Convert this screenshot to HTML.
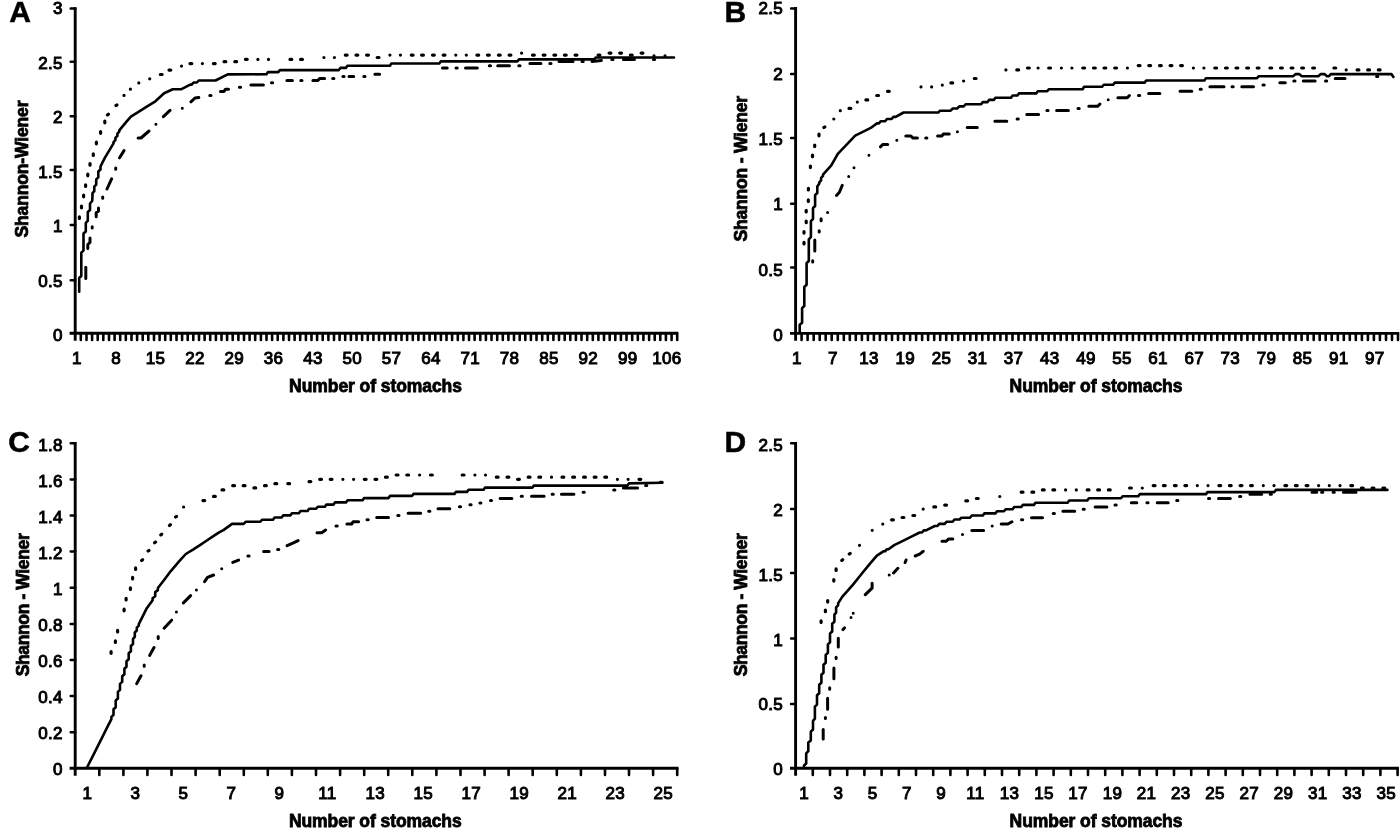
<!DOCTYPE html>
<html lang="en">
<head>
<meta charset="utf-8">
<title>Shannon-Wiener cumulative diversity curves</title>
<style>
html,body{margin:0;padding:0;background:#fff;}
body{width:1400px;height:830px;overflow:hidden;}
svg{display:block;}
</style>
</head>
<body>
<svg width="1400" height="830" viewBox="0 0 1400 830">
<defs><filter id="soft" x="0" y="0" width="1400" height="830" filterUnits="userSpaceOnUse"><feGaussianBlur stdDeviation="0.45"/></filter></defs>
<rect width="1400" height="830" fill="#fff"/>
<g filter="url(#soft)">
<g fill="none" stroke="#000" stroke-linecap="round" stroke-linejoin="round">
<path d="M75.2 7.3V340.7" stroke-width="2.9" stroke-linecap="butt"/><path d="M69.6 333.3H678.2" stroke-width="2.9" stroke-linecap="butt"/><path d="M70.7 8.6H75.2M70.7 61.7H75.2M70.7 116.2H75.2M70.7 170.1H75.2M70.7 225H75.2M70.7 280.3H75.2" stroke-width="2.5" stroke-linecap="round"/><path d="M80.8 333.3V339.9M86.5 333.3V339.9M92.1 333.3V339.9M97.7 333.3V339.9M103.3 333.3V339.9M109 333.3V339.9M114.6 333.3V339.9M120.2 333.3V339.9M125.8 333.3V339.9M131.5 333.3V339.9M137.1 333.3V339.9M142.7 333.3V339.9M148.3 333.3V339.9M154 333.3V339.9M159.6 333.3V339.9M165.2 333.3V339.9M170.8 333.3V339.9M176.5 333.3V339.9M182.1 333.3V339.9M187.7 333.3V339.9M193.3 333.3V339.9M199 333.3V339.9M204.6 333.3V339.9M210.2 333.3V339.9M215.9 333.3V339.9M221.5 333.3V339.9M227.1 333.3V339.9M232.7 333.3V339.9M238.4 333.3V339.9M244 333.3V339.9M249.6 333.3V339.9M255.2 333.3V339.9M260.9 333.3V339.9M266.5 333.3V339.9M272.1 333.3V339.9M277.7 333.3V339.9M283.4 333.3V339.9M289 333.3V339.9M294.6 333.3V339.9M300.2 333.3V339.9M305.9 333.3V339.9M311.5 333.3V339.9M317.1 333.3V339.9M322.7 333.3V339.9M328.4 333.3V339.9M334 333.3V339.9M339.6 333.3V339.9M345.2 333.3V339.9M350.9 333.3V339.9M356.5 333.3V339.9M362.1 333.3V339.9M367.8 333.3V339.9M373.4 333.3V339.9M379 333.3V339.9M384.6 333.3V339.9M390.3 333.3V339.9M395.9 333.3V339.9M401.5 333.3V339.9M407.1 333.3V339.9M412.8 333.3V339.9M418.4 333.3V339.9M424 333.3V339.9M429.6 333.3V339.9M435.3 333.3V339.9M440.9 333.3V339.9M446.5 333.3V339.9M452.1 333.3V339.9M457.8 333.3V339.9M463.4 333.3V339.9M469 333.3V339.9M474.6 333.3V339.9M480.3 333.3V339.9M485.9 333.3V339.9M491.5 333.3V339.9M497.2 333.3V339.9M502.8 333.3V339.9M508.4 333.3V339.9M514 333.3V339.9M519.7 333.3V339.9M525.3 333.3V339.9M530.9 333.3V339.9M536.5 333.3V339.9M542.2 333.3V339.9M547.8 333.3V339.9M553.4 333.3V339.9M559 333.3V339.9M564.7 333.3V339.9M570.3 333.3V339.9M575.9 333.3V339.9M581.5 333.3V339.9M587.2 333.3V339.9M592.8 333.3V339.9M598.4 333.3V339.9M604 333.3V339.9M609.7 333.3V339.9M615.3 333.3V339.9M620.9 333.3V339.9M626.5 333.3V339.9M632.2 333.3V339.9M637.8 333.3V339.9M643.4 333.3V339.9M649.1 333.3V339.9M654.7 333.3V339.9M660.3 333.3V339.9M665.9 333.3V339.9M671.6 333.3V339.9M677.2 333.3V339.9" stroke-width="2.6" stroke-linecap="round"/>
<path d="M795.6 7.1V340.8" stroke-width="2.9" stroke-linecap="butt"/><path d="M790 333.4H1399.2" stroke-width="2.9" stroke-linecap="butt"/><path d="M791.1 8.4H795.6M791.1 74.1H795.6M791.1 138.1H795.6M791.1 203.8H795.6M791.1 267.6H795.6" stroke-width="2.5" stroke-linecap="round"/><path d="M801.6 333.4V340M807.6 333.4V340M813.7 333.4V340M819.7 333.4V340M825.7 333.4V340M831.7 333.4V340M837.8 333.4V340M843.8 333.4V340M849.8 333.4V340M855.8 333.4V340M861.9 333.4V340M867.9 333.4V340M873.9 333.4V340M879.9 333.4V340M886 333.4V340M892 333.4V340M898 333.4V340M904 333.4V340M910.1 333.4V340M916.1 333.4V340M922.1 333.4V340M928.1 333.4V340M934.2 333.4V340M940.2 333.4V340M946.2 333.4V340M952.2 333.4V340M958.2 333.4V340M964.3 333.4V340M970.3 333.4V340M976.3 333.4V340M982.3 333.4V340M988.4 333.4V340M994.4 333.4V340M1000.4 333.4V340M1006.4 333.4V340M1012.5 333.4V340M1018.5 333.4V340M1024.5 333.4V340M1030.5 333.4V340M1036.6 333.4V340M1042.6 333.4V340M1048.6 333.4V340M1054.6 333.4V340M1060.7 333.4V340M1066.7 333.4V340M1072.7 333.4V340M1078.7 333.4V340M1084.8 333.4V340M1090.8 333.4V340M1096.8 333.4V340M1102.8 333.4V340M1108.8 333.4V340M1114.9 333.4V340M1120.9 333.4V340M1126.9 333.4V340M1132.9 333.4V340M1139 333.4V340M1145 333.4V340M1151 333.4V340M1157 333.4V340M1163.1 333.4V340M1169.1 333.4V340M1175.1 333.4V340M1181.1 333.4V340M1187.2 333.4V340M1193.2 333.4V340M1199.2 333.4V340M1205.2 333.4V340M1211.3 333.4V340M1217.3 333.4V340M1223.3 333.4V340M1229.3 333.4V340M1235.4 333.4V340M1241.4 333.4V340M1247.4 333.4V340M1253.4 333.4V340M1259.4 333.4V340M1265.5 333.4V340M1271.5 333.4V340M1277.5 333.4V340M1283.5 333.4V340M1289.6 333.4V340M1295.6 333.4V340M1301.6 333.4V340M1307.6 333.4V340M1313.7 333.4V340M1319.7 333.4V340M1325.7 333.4V340M1331.7 333.4V340M1337.8 333.4V340M1343.8 333.4V340M1349.8 333.4V340M1355.8 333.4V340M1361.9 333.4V340M1367.9 333.4V340M1373.9 333.4V340M1379.9 333.4V340M1386 333.4V340M1392 333.4V340M1398 333.4V340" stroke-width="2.6" stroke-linecap="round"/>
<path d="M75.2 442V775.7" stroke-width="2.9" stroke-linecap="butt"/><path d="M69.6 768.3H678.4" stroke-width="2.9" stroke-linecap="butt"/><path d="M70.7 443.3H75.2M70.7 479.4H75.2M70.7 515.5H75.2M70.7 551.6H75.2M70.7 587.7H75.2M70.7 623.9H75.2M70.7 660H75.2M70.7 696.1H75.2M70.7 732.2H75.2" stroke-width="2.5" stroke-linecap="round"/><path d="M99.3 768.3V774.9M123.4 768.3V774.9M147.4 768.3V774.9M171.5 768.3V774.9M195.6 768.3V774.9M219.7 768.3V774.9M243.8 768.3V774.9M267.8 768.3V774.9M291.9 768.3V774.9M316 768.3V774.9M340.1 768.3V774.9M364.2 768.3V774.9M388.2 768.3V774.9M412.3 768.3V774.9M436.4 768.3V774.9M460.5 768.3V774.9M484.6 768.3V774.9M508.6 768.3V774.9M532.7 768.3V774.9M556.8 768.3V774.9M580.9 768.3V774.9M605 768.3V774.9M629 768.3V774.9M653.1 768.3V774.9M677.2 768.3V774.9" stroke-width="2.6" stroke-linecap="round"/>
<path d="M795.6 442V775.7" stroke-width="2.9" stroke-linecap="butt"/><path d="M790 768.3H1398.8" stroke-width="2.9" stroke-linecap="butt"/><path d="M791.1 443.3H795.6M791.1 509.1H795.6M791.1 573.1H795.6M791.1 638.5H795.6M791.1 704H795.6" stroke-width="2.5" stroke-linecap="round"/><path d="M812.8 768.3V774.9M830 768.3V774.9M847.2 768.3V774.9M864.4 768.3V774.9M881.6 768.3V774.9M898.8 768.3V774.9M916 768.3V774.9M933.2 768.3V774.9M950.4 768.3V774.9M967.6 768.3V774.9M984.8 768.3V774.9M1002 768.3V774.9M1019.2 768.3V774.9M1036.4 768.3V774.9M1053.6 768.3V774.9M1070.8 768.3V774.9M1088 768.3V774.9M1105.2 768.3V774.9M1122.4 768.3V774.9M1139.6 768.3V774.9M1156.8 768.3V774.9M1174 768.3V774.9M1191.2 768.3V774.9M1208.4 768.3V774.9M1225.6 768.3V774.9M1242.8 768.3V774.9M1260 768.3V774.9M1277.2 768.3V774.9M1294.4 768.3V774.9M1311.6 768.3V774.9M1328.8 768.3V774.9M1346 768.3V774.9M1363.2 768.3V774.9M1380.4 768.3V774.9M1397.6 768.3V774.9" stroke-width="2.6" stroke-linecap="round"/>
<path d="M79.2 291.7 L79.2 278 L81.3 276 L81.3 252.6 L83.5 250.6 L83.5 233.4 L85.8 231.4 L85.8 222.8 L87.8 220.8 L87.8 212 L90 210 L90 203.5 L92.2 201 L92.5 195.4 L92.5 193.2 L94.3 191.2 L94.3 188.9 L94.3 186.7 L96.2 184.7 L96.2 182.4 L96.2 179.4 L98.3 177.4 L98.3 174.4 L98.3 171.5 L100.5 169.5 L100.5 166.5 L104.8 157.8 L113.5 143.4 L113.5 142.2 L115.4 140.2 L115.4 139.1 L115.4 137.9 L117.4 135.9 L117.4 134.7 L117.4 133.6 L119.3 131.6 L119.3 130.4 L126.5 121.7 L130.9 116.6 L138.1 112.2 L146 107.1 L155.4 101.3 L164.1 93.3 L172.8 89.2 L181.5 89.2 L190.2 84.6 L191.8 84.6 L193.6 82.5 L195.2 82.5 L196.9 82.5 L198.7 80.5 L200.3 80.5 L215.5 80.5 L227.7 74.4 L266.5 74.3 L268 72.1 L278.3 72.1 L279.9 70.1 L338.8 70.1 L340.4 67.9 L345.9 67.9 L347.4 65.8 L389.9 65.8 L391.4 63.5 L439.3 63.5 L440.9 61.4 L517.4 61.4 L519 59.4 L590 59.4 L594.1 59.4 L595.9 57.5 L600 57.5 L674 57.5" stroke-width="2.6"/>
<path d="M79.4 216.9v1.6M81.5 206.2v1.6M83.6 195.2v1.6M85.6 184.8v1.6M87.8 174.2v1.6M90 163.6v1.6M93.3 153.9v1.6M96.4 142.2v1.6M100.6 131.7v1.6M104.8 121.2v1.6M107.5 114.9l0.9 -0.7M116 105.6l0.9 -0.7M124 95.4h0.01M130.4 89.2h0.01M138.8 82.9h0.01M149.7 78.8h0.01M160.3 74.5h1.8M169 70.1h1.8M181.5 66.1h0.01M190 63.6h1.8M202.4 63.6h0.01M213.4 63.6h1.8M224 61.7h1.8M234.8 61.7h1.8M245.4 59.3h1.8M257.9 59.4h0.01M268.5 59.4h0.01M290 59.4h1.8M300.6 59.4h1.8M323.9 57.5h0.01M334.4 57.5h0.01M345.3 55.1h1.8M356 55.1h1.8M366.6 55.1h1.8M377.2 57.5h1.8M389.9 55.1h0.01M400.4 55.1h0.01M411.3 55.1h1.8M421.6 55.1h1.8M432.5 55.1h1.8M443.2 55.1h1.8M455.8 55.1h0.01M466.3 55.1h0.01M476.9 55.1h1.8M487.5 55.1h1.8M498.4 55.1h1.8M509.1 55.1h1.8M521.6 53.1h0.01M532.5 55.1h1.8M543.2 55.1h1.8M553.9 55.1h1.8M564.4 55.1h1.8M575.1 55.1h1.8M598.1 55.1h1.8M609.1 53.1h1.8M619.7 53.1h1.8M630.4 55.1h1.8M641.1 53.1h1.8M654 55.8h0.01M665 55.8h0.01" stroke-width="3.2"/>
<path d="M85.8 267.3L85.8 278.4M87.8 248.6L87.8 244.5L90 242.5L90 238M92.2 226.7v1.2M96.2 216.7L96.2 212.7L98.5 211L98.5 208M102.7 197v1.2M107 189L111.6 178.8M115.7 168.1v1.2M119.6 157.8L124 150.6M138.1 138L141 138L149 131M155.9 124.3h0.01M163.4 116.6L170 110.4M182.3 108.2h0.01M190.9 101.8L195 98L198.8 97.6M209.8 95.4h1.2M220.5 91.4L224 91.4L225.5 89.2L228.5 89.2M239.4 87.2h1.2M250.9 85L263.4 85M271.4 82.8h1.2M286.9 80.6L292.4 80.6M300.8 80.6h1.2M312.9 80.6L317.6 80.6L319.9 78.4L324.6 78.4M332.7 78.4h1.2M342.9 76.4h1.2M349 76.4L353.7 76.4M363.8 76.4h1.2M374.9 74.3L379.6 74.3M442.5 67.9L447.2 67.9M456 67.9h1.2M465.5 67.9L477.3 67.9M489.3 65.8h1.2M497.7 65.8L509.5 65.8M518.8 65.8h1.2M529.9 63.6L540.9 63.6M549.8 63.6h1.2M559 61.6L573 61.6M582 61.4h1.2M592 61.4L601.4 60.5M611.8 59.6h1.2M623.4 59.6L634.4 59.6M653.4 59.4h1.2" stroke-width="3"/>
<path d="M799.7 332 L799.7 324.8 L802.1 322.7 L802.1 308.2 L804.3 306 L804.3 287 L806.6 284.8 L806.6 263.2 L808.8 261 L808.8 239.3 L810.9 237.1 L810.9 221.2 L813 219 L813 208.2 L815.1 206 L815.1 195.2 L817.3 193 L817.3 186.5 L819.3 183.6 L819.3 182.4 L821.1 180.4 L821.1 179.1 L821.1 177.9 L823 175.9 L823 174.7 L831.3 165.3 L837.8 153.8 L855.2 135.7 L866.8 129.9 L871.1 127.7 L876.9 123.4 L878.9 123.4 L880.7 121.2 L882.7 121.2 L885.1 121.2 L886.9 119 L889.2 119 L891.6 119 L893.4 116.9 L895.7 116.9 L903.6 112.5 L938.4 112.5 L939.8 110.7 L950.6 110.7 L952.8 108.5 L957.2 108.5 L959.3 106.4 L963.7 106.4 L965.8 104.2 L981.2 104.1 L982.8 102.1 L987.5 102.1 L989 99.9 L993.8 99.9 L995.4 97.7 L1011 97.7 L1012.6 95.5 L1017.4 95.5 L1018.9 93.4 L1036.2 93.4 L1037.8 91.2 L1047.2 91.2 L1048.8 89.2 L1082.6 89.2 L1084.1 86.8 L1102.2 86.8 L1103.8 84.8 L1113.2 84.8 L1114.8 82.6 L1144.6 82.6 L1146.2 80.5 L1204.4 80.5 L1205.9 78.3 L1257 78.3 L1258.6 76.3 L1293.1 76.3 L1295.5 74.1 L1299.4 74.1 L1301.8 76.3 L1318.3 76.3 L1320.6 74.1 L1324.6 74.1 L1327 76.3 L1329 76.3 L1330.8 74.1 L1391.4 74.1 L1393.4 76.9" stroke-width="2.6"/>
<path d="M804 242.4v1.6M804 231.5v1.6M806.2 221.1v1.6M806.2 210.3v1.6M808.3 199.9v1.6M808.4 188.4v1.6M810.4 166v1.6M812.5 155.1v1.6M814.7 145v1.6M819 134.2v1.6M823.9 127.6l0.9 -0.7M833.8 119h0.01M840.3 110.7h0.01M849 108.4h1.8M857.3 102.1h0.01M865.9 99.9h1.8M876.7 95.5h1.8M887.5 91.3h1.8M921 86.9h0.01M931.6 86.9h0.01M942.3 85.1h0.01M950.9 82.9h1.8M963.6 81h0.01M974.3 78.5h1.8M1005.9 69.9h0.01M1016.8 69.9h1.8M1027.5 68h1.8M1038.1 68h0.01M1048.7 68h1.8M1061.4 68h0.01M1071.9 68h0.01M1082.8 68h1.8M1093.5 68h1.8M1104 68h1.8M1114.7 68h1.8M1127.4 68h0.01M1138.2 65.6h1.8M1148.8 65.6h1.8M1159.5 65.6h1.8M1170.1 65.6h1.8M1180.6 65.6h1.8M1193.4 68h0.01M1203.9 68h0.01M1214.8 68h1.8M1225.5 68h1.8M1236 68h1.8M1246.7 68h1.8M1257.2 68h1.8M1269.9 68h1.8M1280.5 68h1.8M1291.1 68h1.8M1301.7 68h1.8M1312.7 68h1.8M1333.9 68h1.8M1346.2 69.9h0.01M1357.1 69.9h1.8M1367.7 69.9h1.8M1378.3 69.9h1.8" stroke-width="3.2"/>
<path d="M812.7 260.8v1.2M814.8 240L814.8 250.9M819.2 230.7v1.2M821.1 218.8L821.1 220.8M827.6 212.5h0.01M836.5 195.4L839.4 192.3L842.3 185.3M848.7 176.5h0.01M854 167.8h0.01M868.9 155.2h0.01M880.5 146.8L882.7 144.4L887.7 144.4M896.8 140.3h0.01M905.8 136L910.9 136L913 138.1L917.4 138.1M925.7 138.1h1.2M937.6 136L942 136L943.4 133.9L949.2 133.9M957.4 131.8h0.01M967.2 127.5L977.3 127.5M994.9 121.2L1006.8 121.2M1017.1 119h1.2M1026.8 114.6L1038.6 114.6M1046.9 110.4h1.2M1056.6 110.4L1068.4 110.4M1078 108.4h1.2M1088.8 106.3L1097.5 106.3L1099.9 104.1M1108.2 99.7h0.01M1117.9 97.7L1127.3 97.7L1129.4 95.5M1138.5 95.5h1.2M1148.6 93.4L1159.9 93.4M1180 91.2L1191.8 91.2M1200.1 89.2h1.2M1209.9 86.8L1224 86.8M1232 86.8h1.2M1241.8 86.8L1253.5 86.8M1263 85.1h1.2M1279.8 82.7L1285.3 82.7M1293.8 80.9h1.2M1303.3 80.9L1315.1 80.9M1325.5 80.9h1.2M1335.2 78.5L1345 78.5M1376.6 76.5h1.2" stroke-width="3"/>
<path d="M86.8 768 L101.2 739.3 L104.8 732.1 L109.2 723.4 L111.4 719.1 L111.4 716.9 L113.5 714.9 L113.5 712.6 L113.5 709.2 L115.7 707.2 L115.7 703.9 L115.7 700.5 L117.9 698.5 L117.9 695.2 L117.9 691.9 L120 689.9 L120 686.5 L120 683.9 L122.2 681.9 L122.2 679.3 L122.2 676.3 L124.4 674.3 L124.4 671.3 L124.4 668.7 L126.5 666.7 L126.5 664.1 L126.5 661.2 L128.7 659.2 L128.7 656.2 L128.7 653.2 L130.9 651.2 L130.9 648.2 L130.9 646 L133 644 L133 641.7 L133 638.9 L134.8 636.9 L134.8 634 L134.8 632.5 L136.8 630.5 L136.8 629 L136.8 627.6 L138.8 625.6 L138.8 624.1 L146.8 608.2 L152.6 600.3 L152.6 598.2 L155.2 596.2 L155.2 594.1 L155.2 592.1 L157.9 590.1 L157.9 588 L164.1 580 L170.6 571.3 L179.3 561.2 L185.8 554 L193 549.6 L199.6 545.3 L206.1 541 L212.6 536.6 L219.1 532.3 L223.4 530.1 L232.1 523.9 L243.7 523.9 L245.8 521.7 L260.4 521.7 L262 519.7 L273 519.7 L274.6 517.5 L281.6 517.5 L283.2 515.4 L290.3 515.4 L291.9 513.2 L298.9 513.2 L300.5 511 L307.6 511 L309.1 508.8 L316.2 508.8 L317.8 506.8 L324.9 506.8 L326.4 504.6 L333.5 504.6 L335 502.4 L346 502.4 L347.6 500.2 L362.6 500.2 L364 498.1 L388.5 498.1 L390 495.9 L412 495.9 L413.6 493.9 L454.5 493.9 L456 491.9 L467 491.9 L468.6 489.8 L483.6 489.8 L485.1 487.6 L532.3 487.6 L533.9 485.6 L627.3 485.6 L628.9 483.4 L661.5 482.8" stroke-width="2.6"/>
<path d="M111.1 651.7v1.6M115.4 640.9v1.6M117.6 630.4v1.6M124.1 609.2v1.6M126.1 598.4v1.6M130.4 587.9v1.6M132.6 577.3v1.6M135.6 567.9v1.6M141.7 560.5l0.9 -0.7M148.1 551.1l0.9 -0.7M154.6 542.8l0.9 -0.7M160.8 534.9l0.9 -0.7M169.5 525.5l0.9 -0.7M175.6 517.1l0.9 -0.7M183.6 507h0.01M202.9 500.6h1.8M213.5 496.4h1.8M222 489.9h1.8M232.7 485.7h1.8M243.2 485.7h1.8M253.9 487.9h1.8M264.5 485.7h1.8M274.9 483.7h1.8M287.8 483.7h1.8M309 481.6h1.8M319.7 479.3h1.8M330.2 479.3h1.8M342.9 479.3h0.01M353.6 479.3h0.01M364.3 479.3h1.8M375 479.3h1.8M385.5 477.2h1.8M396.2 475h1.8M406.8 475h1.8M419.6 475h0.01M430.5 475h1.8M462.2 475h1.8M474.9 475h0.01M485.5 475h0.01M496.3 477.2h1.8M507 477.2h1.8M517.6 479.3h1.8M528.2 477.2h1.8M538.8 477.2h1.8M551.5 477.2h0.01M562 477.2h1.8M572.7 477.2h1.8M583.6 477.2h1.8M594.2 477.2h1.8M604.8 477.2h1.8M617.4 479.3h0.01M628.1 479.3h0.01M639 479.3h1.8M660.4 482.4h1.8" stroke-width="3.2"/>
<path d="M136.7 683.6L141 675.7M144.2 665v1.2M149.7 655.4L154 647.5M158.2 636.4L158.2 638.4M164.1 628.2L171.6 620.2M176.4 612.1h0.01M183.4 602.9L190.6 595.6M196.4 590.1h0.01M204.6 581.7L207.5 577.4L213.6 575M221.7 568.7h0.01M232.8 562.4L238.6 560.1M247.9 556.1h1.2M263.6 551.6L269.1 551.6M277.6 549.5h1.2M287.1 545.6L293.4 542.9L298.1 540.6M317 532.7L321.7 532.7L325.6 530M336 526.1h1.2M346.9 524.1L351.6 524.1L353.1 521.7L358.6 521.7M367 519.8h1.2M376.7 517.5L388.5 517.5M397.8 515.4h1.2M408.1 513.2L420.7 513.2M428.7 511.2h1.2M438 508.8L449.8 508.8M459.4 506.8h1.2M469.9 504.7h1.2M479.9 502.9L480.9 502.9M490.5 500.5L491.5 500.5M500.1 498.5L511.9 498.5M521.2 496.3h1.2M531.5 496.3L544.1 496.3M552.1 494.2h1.2M561.4 494.2L573.9 494.2M583.1 492.2h1.2M613.7 490h1.2M623.4 487.9L637.6 487.9M645.6 485.6h1.2" stroke-width="3"/>
<path d="M804 767.1 L804 765.5 L806.2 763.5 L806.2 762 L806.2 753.4 L808.3 751.2 L808.3 742.5 L810.8 740.4 L810.8 731.7 L813 729.5 L813 720.8 L814.9 718.7 L814.9 711.4 L814.9 706.6 L817 704.6 L817 699.8 L817 695.3 L819.2 693.3 L819.2 688.9 L819.2 684.8 L821.4 682.8 L821.4 678.8 L821.4 674.8 L823.5 672.8 L823.5 668.7 L823.5 664.7 L825.7 662.7 L825.7 658.6 L825.7 654.9 L827.9 652.9 L827.9 649.2 L827.9 644.4 L830 642.4 L830 637.6 L830 633.5 L832.2 631.5 L832.2 627.5 L832.2 623.8 L834.4 621.8 L834.4 618.1 L834.4 614.7 L836.1 612.7 L836.1 609.2 L836.1 607.3 L838.1 605.3 L838.1 603.4 L842.2 596.9 L853 584.6 L861.7 573.8 L870 563.6 L876.9 555.7 L883.4 551.3 L885.1 551.3 L886.9 549.2 L888.5 549.2 L894.2 545.1 L902.9 540.9 L910.9 536.9 L919.6 532.5 L922 532.5 L923.8 530.4 L926.1 530.4 L934.7 526 L937.5 526 L939.2 523.9 L942 523.9 L944.7 523.9 L946.5 521.7 L949.2 521.7 L952.6 521.7 L954.4 519.5 L957.9 519.5 L959.6 519.5 L961.4 517.7 L963 517.7 L970 517.7 L971.8 515.5 L982.8 515.5 L984.4 513.4 L995.4 513.4 L997 511.2 L1004 511.2 L1005.6 509.2 L1012.6 509.2 L1014.2 507 L1021.3 507 L1022.9 504.9 L1033.9 504.9 L1035.4 502.7 L1067.6 502.7 L1069.2 500.5 L1087.3 500.5 L1088.9 498.3 L1121 498.3 L1122.6 496.3 L1138.3 496.3 L1139.9 494.1 L1206 494.1 L1207.5 492.1 L1274.3 492.1 L1275.9 489.9 L1387.4 489.9" stroke-width="2.6"/>
<path d="M821.1 620.9v1.6M825.4 610.1v1.6M827.7 600.5v1.6M833.8 579.5v1.6M836.1 568.9v1.6M841.8 560.4l0.9 -0.7M849.3 554.1l0.9 -0.7M859.5 545.3h0.01M872.2 530.3h0.01M882.8 524.1h0.01M891.6 519.8h1.8M902.1 517.5h1.8M912.9 515.5h1.8M923.2 509.1h0.01M933.8 506.9h1.8M944.7 505.1h1.8M965.8 500.8h1.8M976.4 498.5h1.8M999.8 496.5h0.01M1021.2 492.2h1.8M1031.9 492.2h1.8M1042.4 489.9h1.8M1052.9 489.9h1.8M1065.6 489.9h0.01M1076.3 489.9h0.01M1087.2 489.9h1.8M1097.7 489.9h1.8M1108.4 489.9h1.8M1129.6 488h1.8M1142.3 488h0.01M1153.2 485.6h1.8M1163.4 485.6h1.8M1174.4 485.6h1.8M1184.9 485.6h1.8M1197.3 485.6h0.01M1208 485.6h0.01M1218.9 485.6h1.8M1229.4 485.6h1.8M1240.1 485.6h1.8M1250.6 485.6h1.8M1263.3 485.6h0.01M1274 485.6h0.01M1284.9 485.6h1.8M1295.4 485.6h1.8M1306.1 485.6h1.8M1318.6 485.6h0.01M1329.3 485.6h0.01M1340 485.6h0.01M1350.8 485.6h1.8M1361.4 488h1.8M1372.1 488h1.8M1382.9 488h1.8" stroke-width="3.2"/>
<path d="M823.2 729.5L823.2 738.9M825.4 717.4v1.2M827.6 698.3L827.6 709.2M829.7 687.7L829.7 689.3M833.9 668L833.9 678.8M836.1 657.2v1.2M838.3 638.3L838.3 647M843 629.6L844.5 627.9M851 617.4h0.01M853.2 613.3h0.01M865.3 594.7L872.1 588.2L872.1 583.2M889.2 574.9h0.01M893.5 573L897.9 568.3M905.1 562.5L906.1 560M915.2 556L919.6 554.2L923.2 551.3M942 541.2L946.3 541.2L948.5 539L952.8 539M962.5 534.6h0.01M971.8 530.4L983.6 530.4M992.2 526h0.01M1001.2 524L1007.9 524L1011.9 521.8M1021.5 519.7h1.2M1031.5 517.7L1042.5 517.7M1053.2 513.4h1.2M1062.9 511.2L1074.7 511.2M1083.1 509.2h1.2M1095.1 507L1106.9 507M1115 504.9h1.2M1131.3 502.7L1136.8 502.7M1146.9 502.7h1.2M1157.2 502.7L1168.2 502.7M1176.7 500.5h1.2M1208.5 498.5h1.2M1218.5 498.5L1230.3 498.5M1239.6 496.5h1.2M1249.9 494.3L1261.7 494.3M1270.2 494.3h1.2M1312 492.3L1316.7 492.3M1321.6 492.3h1.2M1333.1 492.3h1.2M1343.4 492.3L1356 492.3" stroke-width="3"/>
</g>
<g font-family="'Liberation Sans', Arial, Helvetica, sans-serif" fill="#000">
<g font-size="30" font-weight="bold" stroke="#000" stroke-width="0.5">
<text x="9.3" y="21.6">A</text>
<text x="724.4" y="21.6">B</text>
<text x="8.2" y="451.8">C</text>
<text x="724.4" y="451.8">D</text>
</g>
<g font-size="17.5" font-weight="bold" text-anchor="middle" stroke="#000" stroke-width="0.8">
<text x="375.5" y="391.8" textLength="172.8" lengthAdjust="spacing">Number of stomachs</text>
<text x="1096" y="391.8" textLength="172.8" lengthAdjust="spacing">Number of stomachs</text>
<text x="375.3" y="826.8" textLength="172.8" lengthAdjust="spacing">Number of stomachs</text>
<text x="1096" y="826.8" textLength="172.8" lengthAdjust="spacing">Number of stomachs</text>
<text transform="translate(27.5 169) rotate(-90)" textLength="137" lengthAdjust="spacing">Shannon-Wiener</text>
<text transform="translate(747 168.7) rotate(-90)" textLength="145.5" lengthAdjust="spacing">Shannon - Wiener</text>
<text transform="translate(28.6 604.8) rotate(-90)" textLength="143" lengthAdjust="spacing">Shannon - Wiener</text>
<text transform="translate(747 604.8) rotate(-90)" textLength="143" lengthAdjust="spacing">Shannon - Wiener</text>
</g>
<g font-size="17" text-anchor="end" stroke="#000" stroke-width="1" letter-spacing="0.3">
<text x="62.8" y="14.2">3</text>
<text x="62.8" y="68.7">2.5</text>
<text x="62.8" y="123.2">2</text>
<text x="62.8" y="177.7">1.5</text>
<text x="62.8" y="232.1">1</text>
<text x="62.8" y="286.6">0.5</text>
<text x="62.8" y="341.1">0</text>
<text x="783" y="14.2">2.5</text>
<text x="783" y="79.6">2</text>
<text x="783" y="145">1.5</text>
<text x="783" y="210.3">1</text>
<text x="783" y="275.7">0.5</text>
<text x="783" y="341.1">0</text>
<text x="62.8" y="450.6">1.8</text>
<text x="62.8" y="486.7">1.6</text>
<text x="62.8" y="522.8">1.4</text>
<text x="62.8" y="558.9">1.2</text>
<text x="62.8" y="595">1</text>
<text x="62.8" y="631">0.8</text>
<text x="62.8" y="667.1">0.6</text>
<text x="62.8" y="703.2">0.4</text>
<text x="62.8" y="739.3">0.2</text>
<text x="62.8" y="775.4">0</text>
<text x="783" y="450.6">2.5</text>
<text x="783" y="515.6">2</text>
<text x="783" y="580.5">1.5</text>
<text x="783" y="645.5">1</text>
<text x="783" y="710.4">0.5</text>
<text x="783" y="775.4">0</text>
</g>
<g font-size="17" text-anchor="middle" stroke="#000" stroke-width="1" letter-spacing="0.3">
<text x="76.9" y="364.4">1</text>
<text x="116.2" y="364.4">8</text>
<text x="155.6" y="364.4">15</text>
<text x="194.9" y="364.4">22</text>
<text x="234.3" y="364.4">29</text>
<text x="273.6" y="364.4">36</text>
<text x="312.9" y="364.4">43</text>
<text x="352.3" y="364.4">50</text>
<text x="391.6" y="364.4">57</text>
<text x="431" y="364.4">64</text>
<text x="470.3" y="364.4">71</text>
<text x="509.6" y="364.4">78</text>
<text x="549" y="364.4">85</text>
<text x="588.3" y="364.4">92</text>
<text x="627.7" y="364.4">99</text>
<text x="667" y="364.4">106</text>
<text x="796.9" y="364.4">1</text>
<text x="833" y="364.4">7</text>
<text x="869.1" y="364.4">13</text>
<text x="905.3" y="364.4">19</text>
<text x="941.4" y="364.4">25</text>
<text x="977.5" y="364.4">31</text>
<text x="1013.6" y="364.4">37</text>
<text x="1049.7" y="364.4">43</text>
<text x="1085.9" y="364.4">49</text>
<text x="1122" y="364.4">55</text>
<text x="1158.1" y="364.4">61</text>
<text x="1194.2" y="364.4">67</text>
<text x="1230.3" y="364.4">73</text>
<text x="1266.5" y="364.4">79</text>
<text x="1302.6" y="364.4">85</text>
<text x="1338.7" y="364.4">91</text>
<text x="1374.8" y="364.4">97</text>
<text x="87.3" y="798.7">1</text>
<text x="135.3" y="798.7">3</text>
<text x="183.3" y="798.7">5</text>
<text x="231.3" y="798.7">7</text>
<text x="279.3" y="798.7">9</text>
<text x="327.3" y="798.7">11</text>
<text x="375.3" y="798.7">13</text>
<text x="423.3" y="798.7">15</text>
<text x="471.3" y="798.7">17</text>
<text x="519.3" y="798.7">19</text>
<text x="567.3" y="798.7">21</text>
<text x="615.3" y="798.7">23</text>
<text x="663.3" y="798.7">25</text>
<text x="804.2" y="798.7">1</text>
<text x="838.4" y="798.7">3</text>
<text x="872.7" y="798.7">5</text>
<text x="906.9" y="798.7">7</text>
<text x="941.2" y="798.7">9</text>
<text x="975.4" y="798.7">11</text>
<text x="1009.6" y="798.7">13</text>
<text x="1043.9" y="798.7">15</text>
<text x="1078.1" y="798.7">17</text>
<text x="1112.4" y="798.7">19</text>
<text x="1146.6" y="798.7">21</text>
<text x="1180.8" y="798.7">23</text>
<text x="1215.1" y="798.7">25</text>
<text x="1249.3" y="798.7">27</text>
<text x="1283.6" y="798.7">29</text>
<text x="1317.8" y="798.7">31</text>
<text x="1352" y="798.7">33</text>
<text x="1386.3" y="798.7">35</text>
</g>
</g>
</g>
</svg>
</body>
</html>
